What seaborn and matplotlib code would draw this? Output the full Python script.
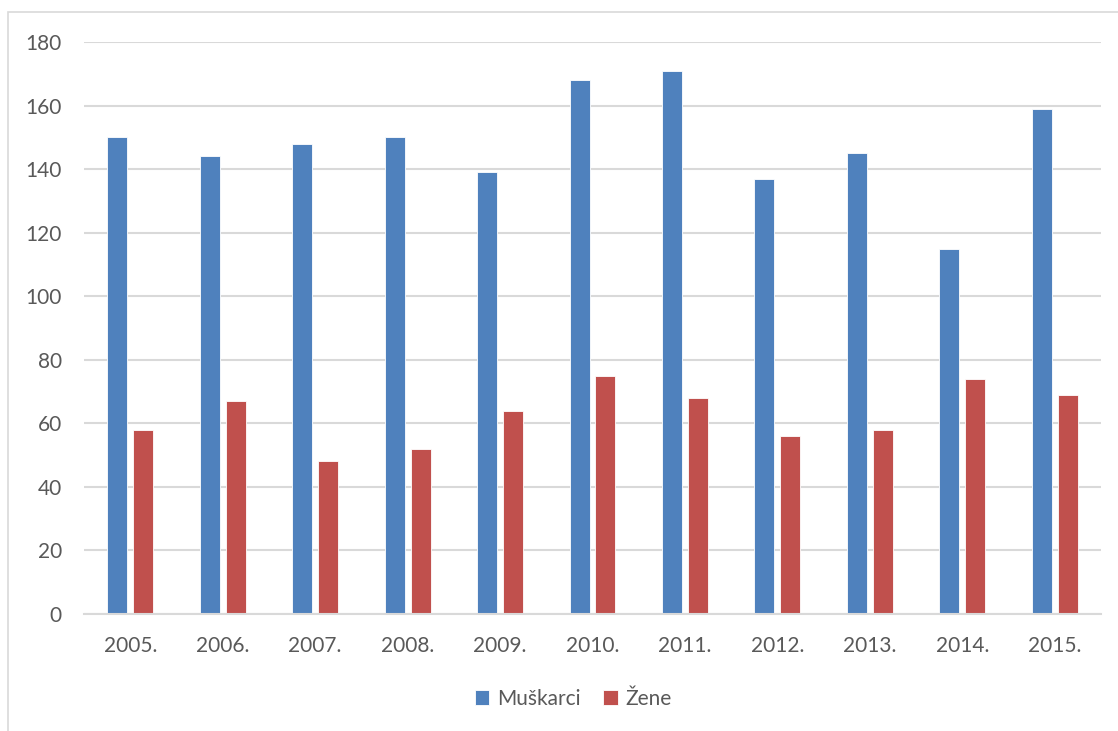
import matplotlib
matplotlib.use("Agg")
import matplotlib.pyplot as plt
import seaborn as sns
import pandas as pd
from matplotlib.patches import Rectangle

years = ["2005.", "2006.", "2007.", "2008.", "2009.", "2010.", "2011.", "2012.", "2013.", "2014.", "2015."]
muskarci = [150, 144, 148, 150, 139, 168, 171, 137, 145, 115, 159]
zene = [58, 67, 48, 52, 64, 75, 68, 56, 58, 74, 69]
series_names = ["Muškarci", "Žene"]
colors = ["#4F81BD", "#C0504D"]
yticks = [0, 20, 40, 60, 80, 100, 120, 140, 160, 180]

df = pd.DataFrame({
    "Godina": years * 2,
    "Vrijednost": muskarci + zene,
    "Spol": [series_names[0]] * len(years) + [series_names[1]] * len(years),
})

sns.set_theme(style="white")
plt.rcParams["font.family"] = ["Lato", "DejaVu Sans"]
text_color = "#595959"
grid_color = "#D9D9D9"

W, H = 1118, 731
fig = plt.figure(figsize=(W / 100, H / 100), dpi=100)
ax = fig.add_axes([84 / W, (H - 614) / H, (1101 - 84) / W, (614 - 42) / H])

sns.barplot(data=df, x="Godina", y="Vrijednost", hue="Spol", palette=colors,
            saturation=1, width=0.56, gap=0.23, ax=ax, edgecolor="white",
            linewidth=0.6, legend=True, zorder=3)

ax.set_ylim(0, 180)
ax.set_xlim(-0.5, len(years) - 0.5)
ax.set_yticks(yticks)
ax.set_xlabel("")
ax.set_ylabel("")
for s in ["top", "right", "left"]:
    ax.spines[s].set_visible(False)
ax.spines["bottom"].set_color(grid_color)
ax.spines["bottom"].set_linewidth(1.5)
ax.spines["bottom"].set_zorder(4)
ax.yaxis.grid(True, color=grid_color, linewidth=1.5, zorder=0)
ax.set_axisbelow(True)
ax.tick_params(axis="both", length=0, labelsize=15, labelcolor=text_color)
ax.tick_params(axis="y", pad=16)
ax.tick_params(axis="x", pad=16)

ax.get_legend().remove()
handles, labels = ax.get_legend_handles_labels()
fig.legend(handles, labels, loc="center", bbox_to_anchor=(573 / W, 1 - 699 / H),
           ncol=2, frameon=False, fontsize=15, labelcolor=text_color,
           handlelength=0.7, handleheight=0.7, handletextpad=0.35,
           columnspacing=1.1)

# chart frame (cut at right/bottom edges)
fig.patches.append(Rectangle((7.5 / W, -0.05), 1.2, 1.05 - 12.5 / H,
                             transform=fig.transFigure, fill=False,
                             edgecolor=grid_color, linewidth=1.2))

fig.savefig("out.png", dpi=100)
